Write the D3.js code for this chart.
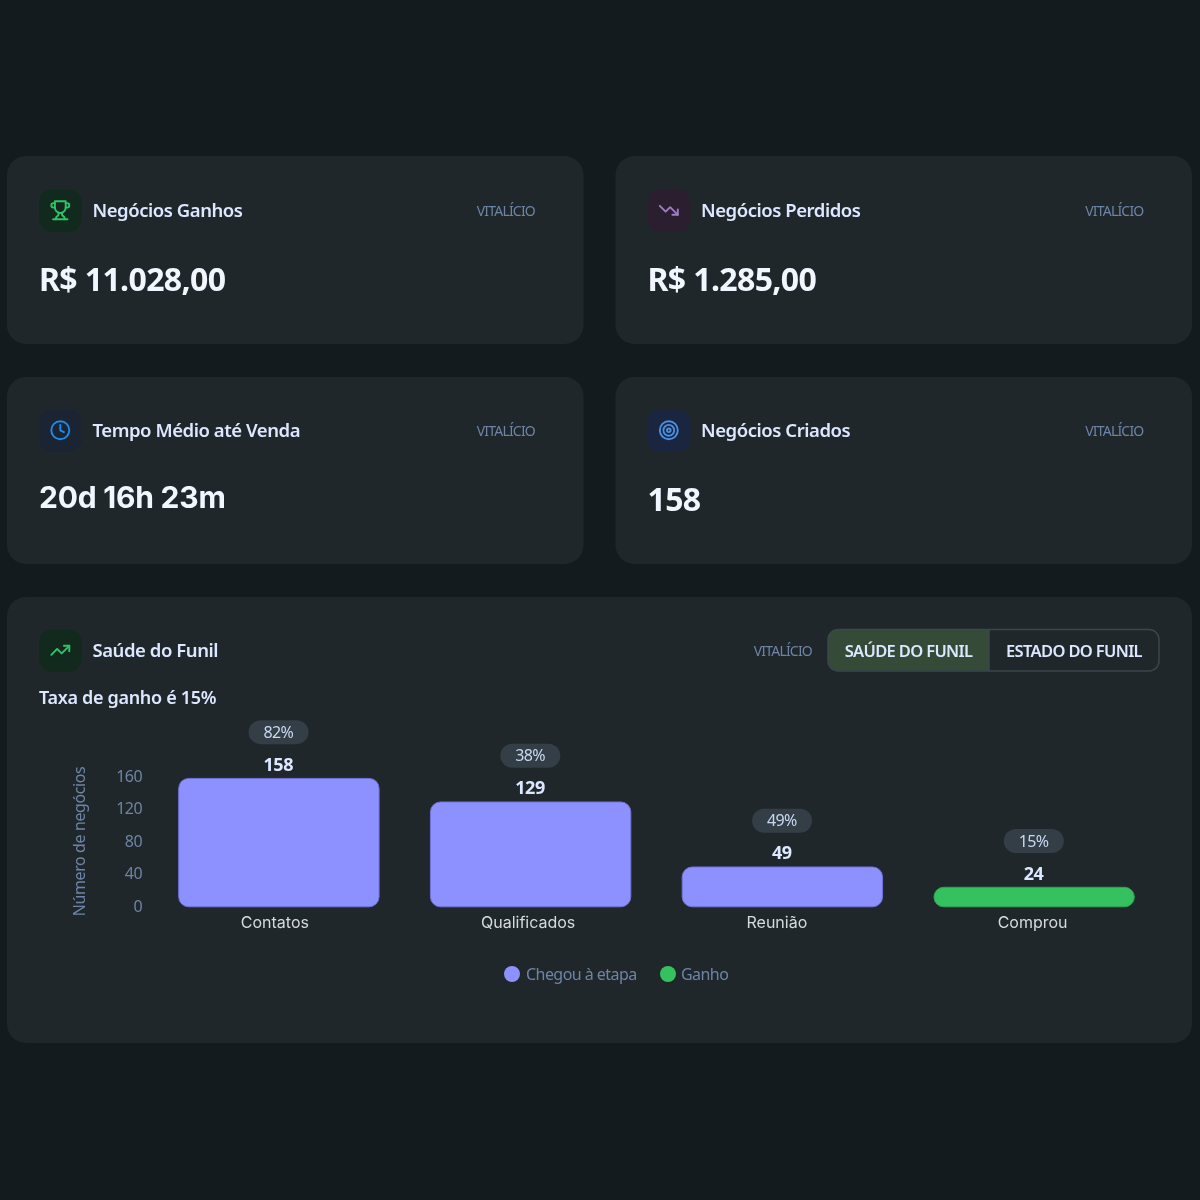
<!DOCTYPE html>
<html><head><meta charset="utf-8">
<script src="https://cdn.jsdelivr.net/npm/d3@7"></script>
<style>html,body{margin:0;padding:0;background:#141b1f}svg{display:block;filter:blur(.5px)}</style>
</head><body><svg id="c" width="1200" height="1200"></svg>
<script>
const kpiTitles = ["Negócios Ganhos","Negócios Perdidos","Tempo Médio até Venda","Negócios Criados"];
const kpiValues = ["R$ 11.028,00","R$ 1.285,00","20d 16h 23m","158"];
const periodLabel = "VITALÍCIO";
const panelTitle = "Saúde do Funil";
const panelSubtitle = "Taxa de ganho é 15%";
const tabLabels = ["SAÚDE DO FUNIL","ESTADO DO FUNIL"];
const stages = ["Contatos","Qualificados","Reunião","Comprou"];
const counts = [158,129,49,24];
const rates = ["82%","38%","49%","15%"];
const yTicks = [0,40,80,120,160];
const yTitle = "Número de negócios";
const legendLabels = ["Chegou à etapa","Ganho"];

const BG="#141b1f",CARD="#20272b",INK="#dce8ff",MUTED="#6d84a6",PURPLE="#8c91ff",GREEN="#36c160";
const SANS="'Noto Sans','Open Sans',sans-serif";
const svg=d3.select("#c");
svg.append("rect").attr("width",1200).attr("height",1200).attr("fill",BG);

const icons=[
 {bg:"#12291e",fg:"#2fc465",d:["M6 9H4.5a2.5 2.5 0 0 1 0-5H6","M18 9h1.5a2.5 2.5 0 0 0 0-5H18","M4 22h16","M10 14.66V17c0 .55-.47.98-.97 1.21C7.85 18.75 7 20.24 7 22","M14 14.66V17c0 .55.47.98.97 1.21C16.15 18.75 17 20.24 17 22","M18 2H6v7a6 6 0 0 0 12 0V2Z"]},
 {bg:"#2b1f2f",fg:"#a07cc5",d:["M22 17 13.5 8.5 8.5 13.5 2 7","M16 17h6v-6"]},
 {bg:"#1b2433",fg:"#1f8be6",d:["M12 2a10 10 0 1 0 0 20a10 10 0 1 0 0-20","M12 6v6l4 2"]},
 {bg:"#1a2540",fg:"#4a90e2",d:["M12 2a10 10 0 1 0 0 20a10 10 0 1 0 0-20","M12 6a6 6 0 1 0 0 12a6 6 0 1 0 0-12","M12 10a2 2 0 1 0 0 4a2 2 0 1 0 0-4"]}
];
const trendUp={bg:"#12291e",fg:"#2fc465",d:["M22 7 13.5 15.5 8.5 10.5 2 17","M16 7h6v6"]};

function drawIcon(g,ic,x,y){
  g.append("rect").attr("x",x).attr("y",y).attr("width",43).attr("height",43).attr("rx",13).attr("fill",ic.bg);
  const s=g.append("g").attr("transform",`translate(${x+10.5},${y+10.5}) scale(0.9)`)
    .attr("fill","none").attr("stroke",ic.fg).attr("stroke-width",2.1).attr("stroke-linecap","round").attr("stroke-linejoin","round");
  s.selectAll("path").data(ic.d).join("path").attr("d",d=>d);
}
function header(g,ic,title,x,y,rightX){
  drawIcon(g,ic,x,y);
  g.append("text").attr("x",x+53.5).attr("y",y+21.5).attr("dy",".35em").attr("font-family",SANS)
    .attr("font-weight",600).attr("font-size",18.5).attr("letter-spacing",-.45).attr("fill",INK).text(title);
  g.append("text").attr("x",rightX).attr("y",y+22).attr("dy",".35em").attr("text-anchor","end").attr("font-family",SANS)
    .attr("font-size",14).attr("letter-spacing",-.8).attr("fill",MUTED).text(periodLabel);
}
const colX=d3.scalePoint().domain([0,1]).range([7,615.5]);
const rowY=d3.scalePoint().domain([0,1]).range([156,377]);
kpiTitles.forEach((t,i)=>{
  const x=colX(i%2),y=rowY(Math.floor(i/2));
  const g=svg.append("g");
  g.append("rect").attr("x",x).attr("y",y).attr("width",576.5).attr("height",i<2?188:187).attr("rx",19).attr("fill",CARD);
  header(g,icons[i],t,x+32,y+(i<2?33:32),x+528);
  const wide=i===2;
  g.append("text").attr("x",x+32).attr("y",y+(i<2?134.7:wide?130.5:134))
    .attr("font-family",wide?"Inter,sans-serif":SANS)
    .attr("font-weight",700).attr("font-size",wide?30:32).attr("letter-spacing",wide?-.22:-.62).attr("fill","#f2f6ff").text(kpiValues[i]);
});

// funnel panel
const p=svg.append("g");
p.append("rect").attr("x",7).attr("y",597).attr("width",1185).attr("height",446).attr("rx",19).attr("fill",CARD);
drawIcon(p,trendUp,39,629);
p.append("text").attr("x",92.5).attr("y",650.5).attr("dy",".35em").attr("font-family",SANS).attr("font-weight",600).attr("font-size",18.5).attr("letter-spacing",-.45).attr("fill",INK).text(panelTitle);
p.append("text").attr("x",812).attr("y",651).attr("dy",".35em").attr("text-anchor","end").attr("font-family",SANS).attr("font-size",14).attr("letter-spacing",-.8).attr("fill",MUTED).text(periodLabel);
p.append("text").attr("x",39).attr("y",697.5).attr("dy",".35em").attr("font-family",SANS).attr("font-weight",600).attr("font-size",18).attr("letter-spacing",-.32).attr("fill",INK).text(panelSubtitle);

// tabs
const tabs=p.append("g");
tabs.append("path").attr("d","M989 629.5H838a10 10 0 0 0-10 10v21a10 10 0 0 0 10 10H989Z").attr("fill","#364a38");
tabs.append("rect").attr("x",828).attr("y",629.5).attr("width",331).attr("height",41.5).attr("rx",10).attr("fill","none").attr("stroke","#3b474b").attr("stroke-width",1.5);
tabs.append("line").attr("x1",989).attr("x2",989).attr("y1",629.5).attr("y2",671).attr("stroke","#3b474b").attr("stroke-width",1.5);
tabs.selectAll("text").data(tabLabels).join("text").attr("x",(d,i)=>i?1074:908.5).attr("y",651).attr("dy",".35em")
  .attr("text-anchor","middle").attr("font-family",SANS).attr("font-weight",600).attr("font-size",16.5).attr("letter-spacing",-.65).attr("fill",INK).text(d=>d);

// chart
const x=d3.scaleBand().domain(stages).range([153,1160]).paddingInner(.2).paddingOuter(.1);
const y=d3.scaleLinear().domain([0,160]).range([906.3,776.3]);
const baseY=y(0);
const barFill=d=>d==="Comprou"?GREEN:PURPLE;
const barEdge=d=>d==="Comprou"?"#2ea653":"#6f73d6";
const chart=p.append("g");
const yAxis=chart.append("g").attr("transform","translate(150,0)").call(d3.axisLeft(y).tickValues(yTicks).tickSize(0).tickPadding(8));
yAxis.select(".domain").remove();
yAxis.selectAll("text").attr("font-family",SANS).attr("font-size",16).attr("letter-spacing",-.55).attr("fill",MUTED);
chart.append("text").attr("transform","translate(79,841.5) rotate(-90)").attr("dy",".35em").attr("text-anchor","middle")
  .attr("font-family",SANS).attr("font-size",16).attr("letter-spacing",-.4).attr("fill",MUTED).text(yTitle);

const rows=stages.map((s,i)=>({s,v:counts[i],r:rates[i]}));
const bars=chart.selectAll("g.b").data(rows).join("g").attr("class","b");
bars.append("path").attr("d",d=>{
  const x0=x(d.s)+.5,w=x.bandwidth()-1,t=y(d.v)+.5,b=baseY+.5,h=b-t,r=Math.min(10,h/2);
  const pth=d3.path();
  pth.moveTo(x0+r,t);pth.lineTo(x0+w-r,t);pth.arcTo(x0+w,t,x0+w,t+r,r);pth.lineTo(x0+w,b-r);pth.arcTo(x0+w,b,x0+w-r,b,r);
  pth.lineTo(x0+r,b);pth.arcTo(x0,b,x0,b-r,r);pth.lineTo(x0,t+r);pth.arcTo(x0,t,x0+r,t,r);pth.closePath();
  return pth.toString();
}).attr("fill",d=>barFill(d.s)).attr("stroke",d=>barEdge(d.s)).attr("stroke-width",1);
bars.append("text").attr("x",d=>x(d.s)+x.bandwidth()/2-.5).attr("y",d=>y(d.v)-13.3).attr("dy",".35em").attr("text-anchor","middle")
  .attr("font-family",SANS).attr("font-weight",700).attr("font-size",18).attr("letter-spacing",-.3).attr("fill",INK).text(d=>d.v);
bars.append("rect").attr("x",d=>x(d.s)+x.bandwidth()/2-30.3).attr("y",d=>y(d.v)-57.8).attr("width",60).attr("height",24).attr("rx",12).attr("fill","#343e47");
bars.append("text").attr("x",d=>x(d.s)+x.bandwidth()/2-.5).attr("y",d=>y(d.v)-45.8).attr("dy",".35em").attr("text-anchor","middle")
  .attr("font-family",SANS).attr("font-size",16).attr("letter-spacing",-.55).attr("fill","#c9d8f2").text(d=>d.r);

const labelNudge=[-4,-2.5,-5.5,-1.5];
const xAxis=chart.append("g").attr("transform",`translate(0,${baseY})`).call(d3.axisBottom(x).tickSize(0).tickPadding(10));
xAxis.select(".domain").remove();
xAxis.selectAll("text").attr("dx",(d,i)=>labelNudge[i]).attr("font-family","Inter,sans-serif").attr("font-size",16).attr("fill","#d6dade");

// legend
const lg=p.append("g");
const legendColors=[PURPLE,GREEN];
const legendCx=[512,668];
lg.selectAll("circle").data(legendLabels).join("circle").attr("cx",(d,i)=>legendCx[i]).attr("cy",974).attr("r",8).attr("fill",(d,i)=>legendColors[i]);
lg.selectAll("text").data(legendLabels).join("text").attr("x",(d,i)=>legendCx[i]+(i?13:14)).attr("y",974.5).attr("dy",".35em")
  .attr("font-family",SANS).attr("font-size",16).attr("letter-spacing",-.55).attr("fill",MUTED).text(d=>d);
</script></body></html>
